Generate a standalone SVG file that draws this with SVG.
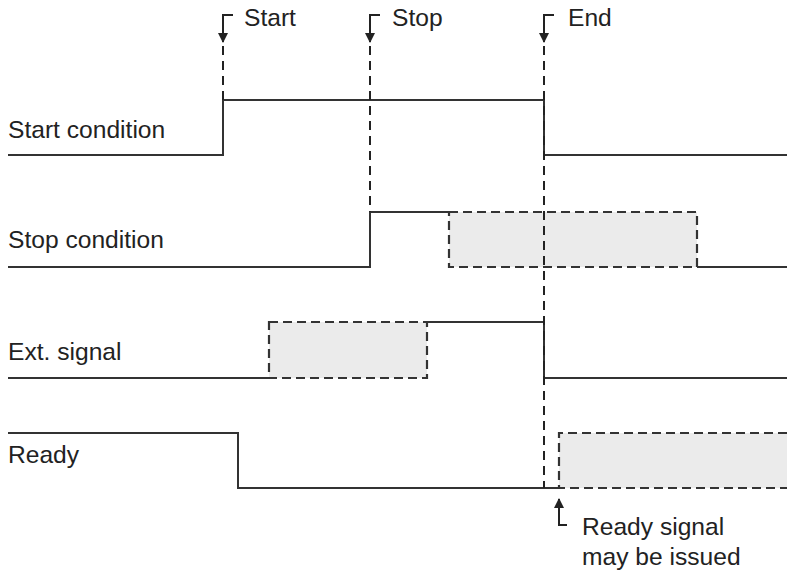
<svg xmlns="http://www.w3.org/2000/svg" width="792" height="575" viewBox="0 0 792 575">
<style>
.sig{fill:none;stroke:#333;stroke-width:2;stroke-linejoin:miter}
.box{fill:#ebebeb;stroke:#333;stroke-width:2.2;stroke-dasharray:9 5}
.mk{fill:none;stroke:#222;stroke-width:2;stroke-dasharray:9 6}
.br{fill:none;stroke:#222;stroke-width:2}
text{font-family:"Liberation Sans",Arial,sans-serif;font-size:24.6px;fill:#222}
</style>
<defs>
<marker id="ah" viewBox="0 0 10 10" refX="9" refY="5" markerWidth="5" markerHeight="5" orient="auto" markerUnits="strokeWidth">
<path d="M0,0 L10,5 L0,10 z" fill="#222"/>
</marker>
</defs>
<rect width="792" height="575" fill="#fff"/>
<g id="boxes">
<rect class="box" x="449" y="212" width="248" height="55"/>
<rect class="box" x="269" y="322" width="158" height="56"/>
<path class="box" d="M787,433 L559,433 L559,488 L787,488"/>
</g>
<g id="start-condition">
<path class="sig" d="M8,155 H223 V100 H544 V155 H787"/>
<text x="8" y="138">Start condition</text>
</g>
<g id="stop-condition">
<path class="sig" d="M8,267 H370 V212 H449"/>
<path class="sig" d="M697,267 H787"/>
<text x="8" y="248">Stop condition</text>
</g>
<g id="ext-signal">
<path class="sig" d="M8,378 H269"/>
<path class="sig" d="M427,322 H544 V378 H787"/>
<text x="8" y="360">Ext. signal</text>
</g>
<g id="ready">
<path class="sig" d="M8,433 H238 V488 H559"/>
<text x="8" y="463">Ready</text>
</g>
<g id="connectors">
<path class="br" d="M233,15 H223 V42" marker-end="url(#ah)"/>
<path class="mk" d="M223,46 V100"/>
<path class="br" d="M380,15 H370 V42" marker-end="url(#ah)"/>
<path class="mk" d="M370,46 V212"/>
<path class="br" d="M554,15 H544 V42" marker-end="url(#ah)"/>
<path class="mk" d="M544,46 V488"/>
<path class="br" d="M567,525 H559 V499" marker-end="url(#ah)"/>
</g>
<g id="labels">
<text x="244" y="26">Start</text>
<text x="392" y="26">Stop</text>
<text x="568" y="26">End</text>
<text x="582" y="535">Ready signal</text>
<text x="582" y="565">may be issued</text>
</g>
</svg>
